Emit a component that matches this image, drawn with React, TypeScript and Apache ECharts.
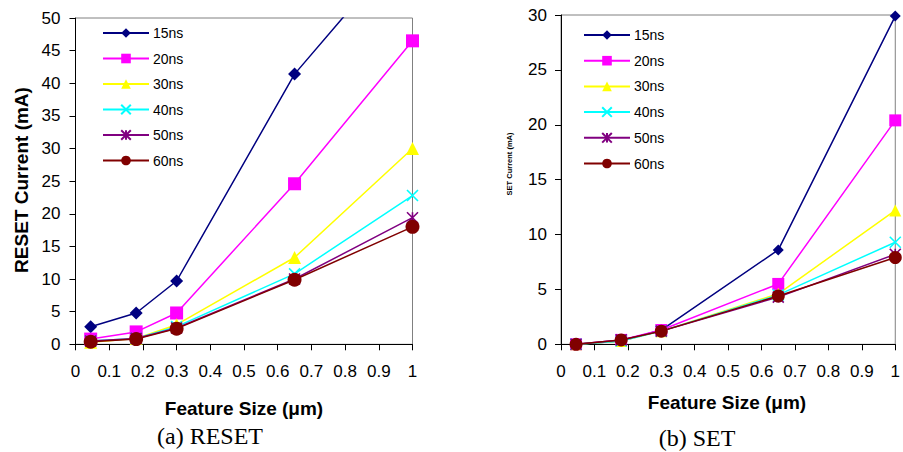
import React, { useEffect, useRef } from "react";
import * as echarts from "echarts";

const featureSizes = [0.045, 0.18, 0.3, 0.65, 1.0];
const seriesNames = ["15ns", "20ns", "30ns", "40ns", "50ns", "60ns"];

const reset15 = [2.7, 4.8, 9.7, 41.4, 62.5];
const reset20 = [0.8, 1.9, 4.8, 24.6, 46.5];
const reset30 = [0.3, 0.9, 3.0, 13.3, 30.0];
const reset40 = [0.5, 0.9, 2.7, 10.8, 22.8];
const reset50 = [0.5, 0.9, 2.5, 10.0, 19.4];
const reset60 = [0.4, 0.8, 2.4, 9.9, 18.0];

const set15 = [0.0, 0.3, 1.3, 8.6, 29.9];
const set20 = [0.0, 0.4, 1.3, 5.5, 20.4];
const set30 = [0.0, 0.3, 1.2, 4.6, 12.2];
const set40 = [0.0, 0.3, 1.2, 4.5, 9.3];
const set50 = [0.0, 0.4, 1.2, 4.3, 8.2];
const set60 = [0.0, 0.4, 1.2, 4.4, 7.9];

const resetSeries = [reset15, reset20, reset30, reset40, reset50, reset60];
const setSeries = [set15, set20, set30, set40, set50, set60];

const colors = ["#000080", "#FF00FF", "#FFFF00", "#00FFFF", "#800080", "#800000"];
const symbols = [
  "diamond",
  "rect",
  "triangle",
  "path://M0,0 L10,10 M10,0 L0,10",
  "path://M5,0 L5,10 M0,0 L10,10 M10,0 L0,10",
  "circle",
];
const symbolSizesReset = [13, 13, 13, 11, 11, 14];
const symbolSizesSet = [11, 12, 12, 11, 11, 13];

const SANS = "'Liberation Sans', Arial, sans-serif";
const SERIF = "'Liberation Serif', 'Times New Roman', serif";

function buildSeries(data: number[][], idx: number, sizes: number[]) {
  return data.map((vals, i) => {
    const isStroke = i === 3 || i === 4;
    return {
      name: seriesNames[i],
      type: "line",
      xAxisIndex: idx,
      yAxisIndex: idx,
      data: featureSizes.map((x, j) => [x, vals[j]]),
      symbol: symbols[i],
      symbolSize: sizes[i],
      showSymbol: true,
      clip: true,
      lineStyle: { color: colors[i], width: 1.5 },
      itemStyle: isStroke
        ? { color: colors[i], borderColor: colors[i], borderWidth: 1.6 }
        : { color: colors[i], borderWidth: 0 },
      emphasis: { disabled: true },
    };
  });
}

function axisX(gridIndex: number) {
  return {
    type: "value",
    gridIndex,
    min: 0,
    max: 1,
    interval: 0.1,
    axisLine: { show: true, lineStyle: { color: "#000", width: 1 } },
    axisTick: { show: true, length: 6, lineStyle: { color: "#000" } },
    splitLine: { show: false },
    axisLabel: {
      color: "#000",
      fontSize: 17,
      fontFamily: SANS,
      margin: 19,
      formatter: (v: number) => String(Math.round(v * 10) / 10),
    },
  };
}

function axisY(gridIndex: number, max: number, margin: number) {
  return {
    type: "value",
    gridIndex,
    min: 0,
    max,
    interval: 5,
    axisLine: { show: true, lineStyle: { color: "#000", width: 1 } },
    axisTick: { show: true, length: 6, lineStyle: { color: "#000" } },
    splitLine: { show: false },
    axisLabel: { color: "#000", fontSize: 17, fontFamily: SANS, margin },
  };
}

function legendAt(left: number, top: number, gap: number) {
  return {
    orient: "vertical",
    left,
    top,
    padding: 0,
    itemWidth: 46,
    itemHeight: 12,
    itemGap: gap,
    data: seriesNames,
    selectedMode: false,
    textStyle: { color: "#000", fontSize: 14, fontFamily: SANS, padding: [0, 0, 0, -1] },
  };
}

export default function App() {
  const ref = useRef<HTMLDivElement>(null);
  useEffect(() => {
    document.body.style.margin = "0";
    if (!ref.current) return;
    const chart = echarts.init(ref.current, undefined, { renderer: "svg" });
    chart.setOption({
      animation: false,
      backgroundColor: "#fff",
      grid: [
        { left: 75.5, top: 18, width: 337, height: 326.3, show: true, borderColor: "#808080", borderWidth: 1 },
        { left: 561, top: 15, width: 336, height: 329.3, show: true, borderColor: "#808080", borderWidth: 1 },
      ],
      xAxis: [axisX(0), axisX(1)],
      yAxis: [axisY(0, 50, 15), axisY(1, 30, 14)],
      legend: [legendAt(102, 26, 11.5), legendAt(583, 28, 11.7)],
      series: [
        ...buildSeries(resetSeries, 0, symbolSizesReset),
        ...buildSeries(setSeries, 1, symbolSizesSet),
      ],
      graphic: [
        {
          type: "text",
          x: 21,
          y: 180,
          rotation: Math.PI / 2,
          style: {
            text: "RESET Current (mA)",
            font: `bold 19px ${SANS}`,
            fill: "#000",
            align: "center",
            verticalAlign: "middle",
          },
        },
        {
          type: "text",
          x: 509.5,
          y: 164,
          rotation: Math.PI / 2,
          style: {
            text: "SET Current (mA)",
            font: `bold 7.5px ${SANS}`,
            fill: "#000",
            align: "center",
            verticalAlign: "middle",
          },
        },
        {
          type: "text",
          x: 244,
          y: 408,
          style: {
            text: "Feature Size (μm)",
            font: `bold 19px ${SANS}`,
            fill: "#000",
            align: "center",
            verticalAlign: "middle",
          },
        },
        {
          type: "text",
          x: 727,
          y: 402,
          style: {
            text: "Feature Size (μm)",
            font: `bold 19px ${SANS}`,
            fill: "#000",
            align: "center",
            verticalAlign: "middle",
          },
        },
        {
          type: "text",
          x: 210,
          y: 436,
          style: {
            text: "(a) RESET",
            font: `24px ${SERIF}`,
            fill: "#000",
            align: "center",
            verticalAlign: "middle",
          },
        },
        {
          type: "text",
          x: 697,
          y: 438,
          style: {
            text: "(b) SET",
            font: `24px ${SERIF}`,
            fill: "#000",
            align: "center",
            verticalAlign: "middle",
          },
        },
      ],
    });
    return () => chart.dispose();
  }, []);
  return <div ref={ref} style={{ width: 903, height: 452 }} />;
}
